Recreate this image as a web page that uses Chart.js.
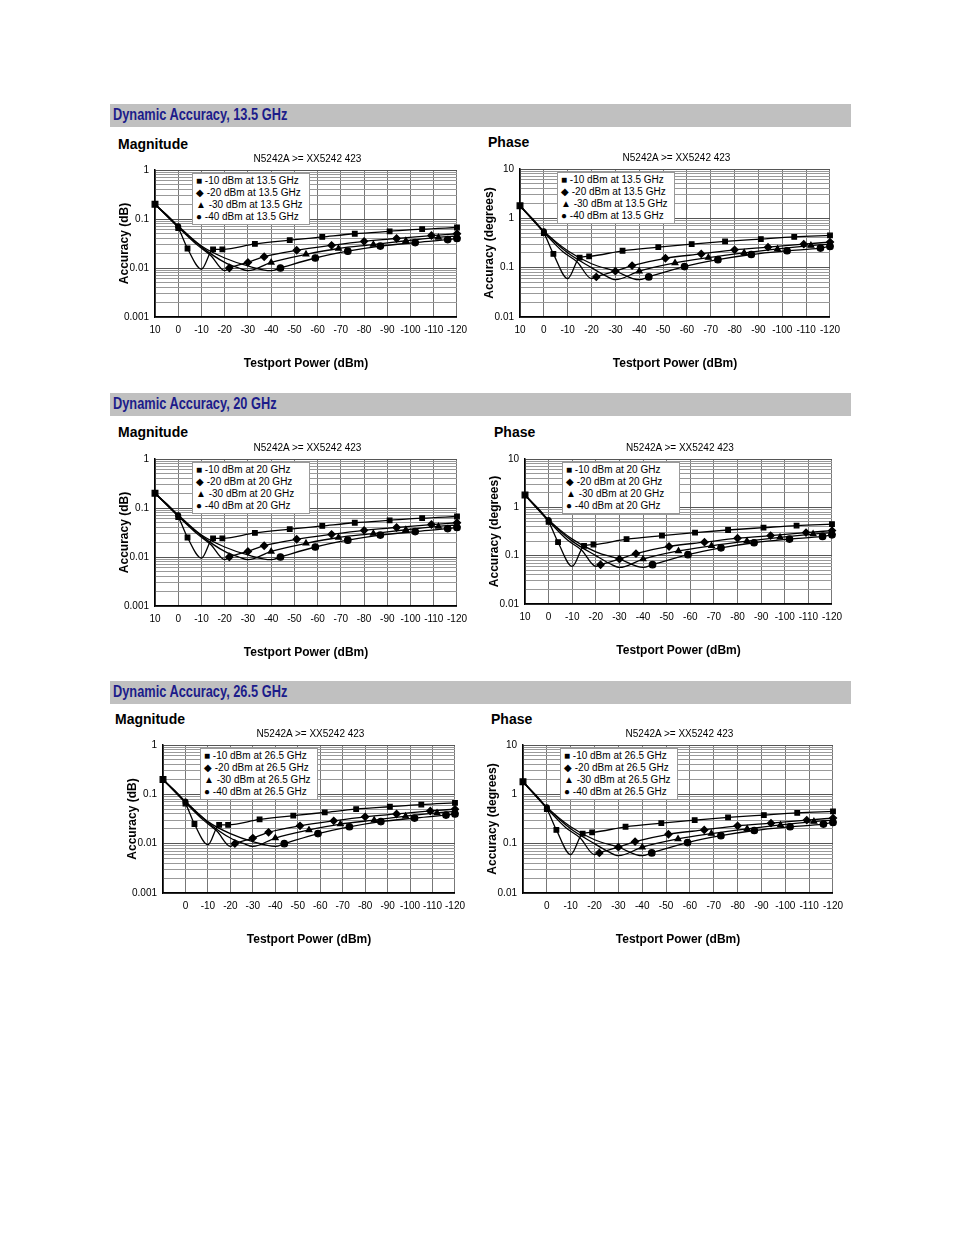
<!DOCTYPE html>
<html><head><meta charset="utf-8">
<script src="https://cdn.jsdelivr.net/npm/chart.js@4"></script>
<style>
body{margin:0;width:954px;height:1235px;background:#fff;font-family:Arial,"Liberation Sans",sans-serif;position:relative;overflow:hidden}
.band{position:absolute;left:110px;width:741px;height:23px;background:#c0c0c0}
.band span{position:absolute;left:3px;top:2px;font:bold 16px Arial,"Liberation Sans",sans-serif;color:#1c1c8a;transform:scaleX(0.8);transform-origin:left center;white-space:nowrap}
.lab{position:absolute;font:bold 14px Arial,"Liberation Sans",sans-serif;color:#000}
.ttl{position:absolute;font:10px Arial,"Liberation Sans",sans-serif;text-align:center;color:#000}
.leg{position:absolute;background:#fff;border:1px solid #999;font:10px Arial,"Liberation Sans",sans-serif;line-height:12px;padding:1px 3px;width:110px;white-space:nowrap}
canvas{position:absolute}
</style></head><body>
<script>
// ---- data ----
const sections = ["13.5", "20", "26.5"];
const refLevels = ["-10", "-20", "-30", "-40"];
// Magnitude (dB) curves: x = testport power (dBm)
const magX10 = [10, 0, -4, -10, -15, -19, -33, -48, -62, -76, -91, -105, -120];
const magY10 = [0.2, 0.065, 0.025, 0.0095, 0.024, 0.024, 0.031, 0.037, 0.043, 0.05, 0.056, 0.062, 0.067];
const magX20 = [10, 0, -8, -14, -20, -22, -30, -37, -51, -66, -80, -94, -109, -120];
const magY20 = [0.2, 0.068, 0.03, 0.018, 0.0088, 0.01, 0.013, 0.017, 0.023, 0.029, 0.035, 0.04, 0.046, 0.05];
const magX30 = [10, 0, -10, -20, -26, -30, -40, -55, -69, -84, -98, -112, -120];
const magY30 = [0.2, 0.07, 0.027, 0.013, 0.01, 0.0088, 0.013, 0.019, 0.025, 0.03, 0.036, 0.042, 0.045];
const magX40 = [10, 0, -10, -20, -30, -40, -44, -59, -73, -87, -102, -116, -120];
const magY40 = [0.2, 0.072, 0.028, 0.016, 0.011, 0.0088, 0.01, 0.016, 0.022, 0.028, 0.033, 0.038, 0.04];
// Phase (degrees) curves
const phX10 = [10, 0, -4, -10, -15, -19, -33, -48, -62, -76, -91, -105, -120];
const phY10 = [1.8, 0.5, 0.19, 0.06, 0.16, 0.17, 0.22, 0.26, 0.3, 0.34, 0.38, 0.42, 0.45];
const phX20 = [10, 0, -8, -14, -20, -22, -30, -37, -51, -66, -80, -94, -109, -120];
const phY20 = [1.8, 0.52, 0.21, 0.13, 0.06, 0.065, 0.085, 0.11, 0.155, 0.19, 0.23, 0.26, 0.3, 0.33];
const phX30 = [10, 0, -10, -20, -26, -30, -40, -55, -69, -84, -98, -112, -120];
const phY30 = [1.8, 0.54, 0.2, 0.1, 0.068, 0.057, 0.085, 0.125, 0.16, 0.2, 0.24, 0.28, 0.3];
const phX40 = [10, 0, -10, -20, -30, -40, -44, -59, -73, -87, -102, -116, -120];
const phY40 = [1.8, 0.55, 0.22, 0.12, 0.085, 0.057, 0.065, 0.105, 0.145, 0.185, 0.22, 0.25, 0.27];
const dipIdx = [3, 4, 5, 5];
const xTicks = [10, 0, -10, -20, -30, -40, -50, -60, -70, -80, -90, -100, -110, -120];

const magSets = [[magX10, magY10], [magX20, magY20], [magX30, magY30], [magX40, magY40]];
const phSets = [[phX10, phY10], [phX20, phY20], [phX30, phY30], [phX40, phY40]];
const shapes = ['rect', 'rectRot', 'triangle', 'circle'];
const syms = ['■', '◆', '▲', '●'];

function el(tag, cls, css, html) {
  const e = document.createElement(tag); if (cls) e.className = cls;
  Object.assign(e.style, css); if (html != null) e.innerHTML = html;
  document.body.appendChild(e); return e;
}

function makeChart(L, T, R, B, sets, minY, maxY, ytitle, freq, hide10) {
  const YW = 38, PL = 7, XH = 58, PT = 8, PR = 14;
  const cv = el('canvas', null, { left: (L - YW - PL) + 'px', top: (T - PT) + 'px' });
  const w = R - L + YW + PL + PR, h = B - T + PT + XH;
  cv.width = w; cv.height = h; cv.style.width = w + 'px'; cv.style.height = h + 'px';
  el('div', 'ttl', { left: L + 'px', width: (R - L) + 'px', top: (T - 13) + 'px' }, 'N5242A &gt;= XX5242 423');
  let lh = '';
  refLevels.forEach((r, i) => lh += syms[i] + ' ' + r + ' dBm at ' + freq + ' GHz<br>');
  el('div', 'leg', { left: (L + 37) + 'px', top: (T + 7) + 'px' }, lh);
  const datasets = sets.map((s, i) => ({
    data: s[0].map((x, j) => ({ x: x, y: s[1][j] })),
    borderColor: '#000', backgroundColor: '#000', borderWidth: 1.3, clip: false,
    pointStyle: shapes[i], cubicInterpolationMode: 'monotone',
    pointRadius: ctx => {
      const j = ctx.dataIndex;
      if (j === 0) return i === 0 ? 4 : 0;
      if (j === dipIdx[i]) return 0;
      if (i > 0 && j > 1 && j < dipIdx[i]) return 0;
      if (i > 0 && j === 1) return 2.2;
      return shapes[i] === 'rectRot' ? 3.5 : 3.2;
    }
  }));
  new Chart(cv, {
    type: 'line', data: { datasets },
    options: {
      responsive: false, animation: false, devicePixelRatio: 1,
      layout: { padding: { top: PT, right: PR, left: PL, bottom: 0 } },
      plugins: { legend: { display: false }, tooltip: { enabled: false } },
      scales: {
        x: {
          type: 'linear', reverse: true, min: -120, max: 10,
          afterFit: s => { s.height = XH; },
          afterBuildTicks: s => { s.ticks = xTicks.map(v => ({ value: v })); },
          ticks: { font: { size: 10, family: 'Arial' }, color: '#000', maxRotation: 0, autoSkip: false, padding: 7,
            callback: v => (hide10 && v === 10) ? '' : String(v) },
          grid: { color: '#777', lineWidth: 1, drawTicks: false },
          border: { color: '#000', width: 1.5 },
          title: { display: true, text: 'Testport Power (dBm)', font: { size: 12, weight: 'bold', family: 'Arial' }, color: '#000', padding: { top: 16 } }
        },
        y: {
          type: 'logarithmic', min: minY, max: maxY,
          afterFit: s => { s.width = YW; },
          afterBuildTicks: s => {
            const t = [];
            for (let d = minY; d < maxY * 1.01; d *= 10) for (let k = 1; k <= 9; k++) { const v = d * k; if (v <= maxY * 1.0001) t.push({ value: v }); }
            s.ticks = t;
          },
          ticks: { font: { size: 10, family: 'Arial' }, color: '#000', autoSkip: false, padding: 6,
            callback: v => { const l = Math.log10(v); return Math.abs(l - Math.round(l)) < 1e-6 ? String(+v.toPrecision(1)) : ''; } },
          grid: { color: c => { const l = Math.log10(c.tick.value); return Math.abs(l - Math.round(l)) < 1e-6 ? '#555' : '#999'; }, drawTicks: false },
          border: { color: '#000', width: 1.5 },
          title: { display: true, text: ytitle, font: { size: 12, weight: 'bold', family: 'Arial' }, color: '#000', padding: 0 }
        }
      }
    }
  });
}

const bandTops = [104, 393, 681];
const layouts = [
  { m: [155, 166, 460, 317], p: [520, 165, 833, 317], ml: [118, 136], pl: [488, 134] },
  { m: [155, 455, 460, 606], p: [525, 455, 835, 604], ml: [118, 424], pl: [494, 424] },
  { m: [163, 741, 458, 893], p: [523, 741, 836, 893], ml: [115, 711], pl: [491, 711] }
];
sections.forEach((f, k) => {
  el('div', 'band', { top: bandTops[k] + 'px' }, '<span>Dynamic Accuracy, ' + f + ' GHz</span>');
  const g = layouts[k];
  el('div', 'lab', { left: g.ml[0] + 'px', top: g.ml[1] + 'px' }, 'Magnitude');
  el('div', 'lab', { left: g.pl[0] + 'px', top: g.pl[1] + 'px' }, 'Phase');
  makeChart(g.m[0], g.m[1], g.m[2], g.m[3], magSets, 0.001, 1, 'Accuracy (dB)', f, k === 2);
  makeChart(g.p[0], g.p[1], g.p[2], g.p[3], phSets, 0.01, 10, 'Accuracy (degrees)', f, k === 2);
});
</script>
</body></html>
